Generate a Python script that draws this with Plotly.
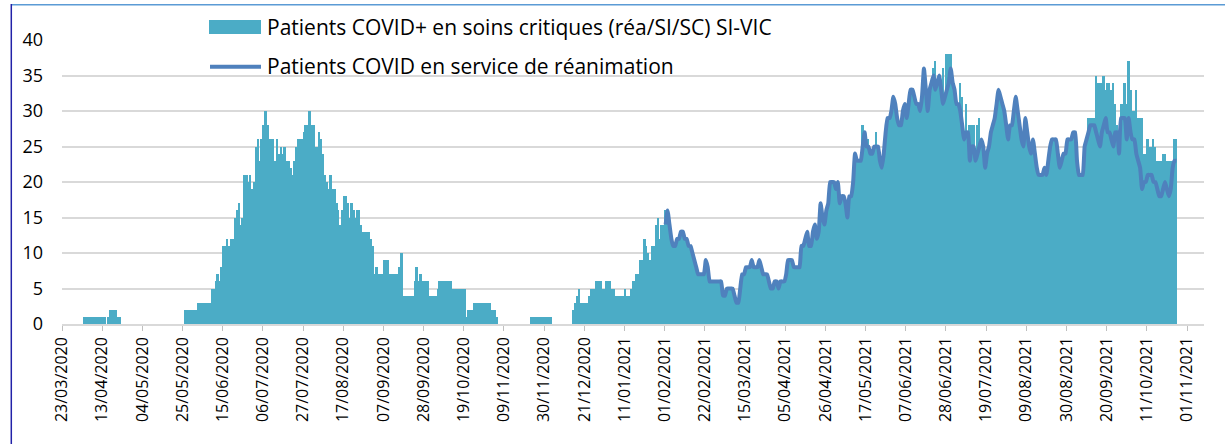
import pandas as pd
import plotly.graph_objects as go

# ---- data (daily values) ----
start_date = "2020-03-23"
line_start_date = "2021-02-01"

# Patients COVID+ en soins critiques (réa/SI/SC) SI-VIC, daily from 23/03/2020
soins_critiques = [
    0, 0, 0, 0, 0, 0, 0, 0, 0, 0,
    0, 1, 1, 1, 1, 1, 1, 1, 1, 1,
    1, 1, 1, 0, 1, 2, 2, 2, 2, 1,
    1, 0, 0, 0, 0, 0, 0, 0, 0, 0,
    0, 0, 0, 0, 0, 0, 0, 0, 0, 0,
    0, 0, 0, 0, 0, 0, 0, 0, 0, 0,
    0, 0, 0, 0, 2, 2, 2, 2, 2, 2,
    2, 3, 3, 3, 3, 3, 3, 3, 5, 5,
    6, 7, 6, 8, 11, 11, 12, 11, 12, 12,
    15, 16, 17, 14, 15, 21, 21, 20, 21, 19,
    20, 25, 26, 23, 26, 28, 30, 28, 26, 26,
    26, 23, 26, 24, 25, 24, 25, 23, 23, 22,
    21, 23, 25, 26, 26, 26, 27, 28, 28, 30,
    28, 28, 25, 25, 27, 26, 24, 21, 20, 19,
    21, 19, 19, 17, 16, 14, 16, 18, 18, 17,
    15, 17, 16, 15, 16, 16, 14, 13, 13, 13,
    13, 12, 11, 7, 8, 7, 7, 7, 9, 9,
    9, 7, 7, 7, 7, 7, 8, 10, 4, 4,
    4, 4, 4, 4, 6, 8, 6, 7, 6, 6,
    6, 6, 4, 4, 4, 4, 5, 6, 6, 6,
    6, 6, 6, 6, 5, 5, 5, 5, 5, 5,
    5, 1, 2, 2, 2, 3, 3, 3, 3, 3,
    3, 3, 3, 3, 2, 2, 2, 1, 0, 0,
    0, 0, 0, 0, 0, 0, 0, 0, 0, 0,
    0, 0, 0, 0, 0, 1, 1, 1, 1, 1,
    1, 1, 1, 1, 1, 1, 0, 0, 0, 0,
    0, 0, 0, 0, 0, 0, 0, 2, 3, 4,
    5, 3, 3, 3, 3, 4, 5, 5, 5, 6,
    6, 6, 5, 5, 6, 6, 6, 5, 5, 4,
    4, 4, 4, 4, 5, 4, 4, 5, 6, 6,
    7, 7, 9, 9, 12, 11, 10, 9, 11, 11,
    14, 15, 12, 14, 14, 16, 16, 14, 12, 11,
    11, 12, 12, 13, 13, 12, 12, 11, 11, 10,
    9, 8, 7, 7, 7, 7, 9, 8, 6, 6,
    6, 6, 6, 6, 6, 4, 4, 5, 5, 5,
    5, 4, 3, 3, 5, 7, 7, 8, 8, 8,
    9, 8, 8, 8, 9, 8, 7, 7, 7, 6,
    5, 5, 6, 6, 5, 6, 6, 6, 7, 9,
    9, 9, 8, 8, 8, 8, 11, 11, 12, 13,
    11, 11, 13, 14, 12, 13, 17, 15, 14, 16,
    17, 20, 20, 20, 19, 20, 17, 18, 18, 17,
    15, 18, 18, 20, 24, 23, 23, 23, 28, 27,
    26, 26, 24, 24, 25, 27, 25, 23, 22, 24,
    27, 29, 29, 30, 32, 31, 29, 28, 28, 30,
    31, 29, 31, 33, 33, 32, 31, 31, 30, 32,
    36, 33, 30, 33, 34, 36, 37, 34, 35, 33,
    36, 32, 38, 38, 38, 34, 34, 31, 31, 34,
    32, 26, 31, 27, 28, 28, 28, 23, 28, 29,
    26, 25, 22, 24, 25, 27, 28, 29, 31, 33,
    32, 31, 30, 28, 26, 28, 28, 30, 32, 30,
    28, 26, 25, 29, 27, 25, 24, 26, 24, 22,
    21, 21, 21, 22, 21, 23, 25, 26, 26, 26,
    24, 22, 23, 24, 24, 26, 26, 26, 27, 27,
    23, 21, 21, 21, 25, 26, 29, 29, 29, 29,
    35, 34, 34, 34, 35, 33, 34, 34, 33, 34,
    31, 28, 24, 31, 31, 34, 31, 37, 33, 30,
    30, 33, 29, 29, 29, 24, 24, 26, 25, 25,
    26, 25, 23, 23, 23, 24, 24, 23, 23, 23,
    22, 26, 26,
]

# Patients COVID en service de réanimation, daily from 01/02/2021
reanimation = [
    14, 16, 14, 12, 11,
    11, 12, 12, 13, 13, 12, 12, 11, 11, 10,
    9, 8, 7, 7, 7, 7, 9, 8, 6, 6,
    6, 6, 6, 6, 6, 4, 4, 5, 5, 5,
    5, 4, 3, 3, 5, 7, 7, 8, 8, 8,
    9, 8, 8, 8, 9, 8, 7, 7, 7, 6,
    5, 5, 6, 6, 5, 6, 6, 6, 7, 9,
    9, 9, 8, 8, 8, 8, 11, 11, 12, 13,
    11, 11, 13, 14, 12, 13, 17, 15, 14, 16,
    17, 20, 20, 20, 19, 20, 17, 18, 18, 17,
    15, 18, 18, 20, 24, 23, 23, 23, 25, 27,
    25, 25, 24, 24, 25, 25, 25, 23, 22, 24,
    27, 29, 29, 30, 32, 31, 29, 28, 28, 30,
    31, 29, 31, 33, 33, 32, 31, 31, 30, 32,
    36, 33, 30, 33, 34, 35, 33, 34, 35, 33,
    31, 32, 33, 34, 36, 34, 33, 31, 31, 30,
    28, 26, 27, 27, 23, 25, 25, 23, 24, 25,
    26, 25, 22, 24, 25, 27, 28, 29, 31, 33,
    32, 31, 30, 28, 26, 28, 28, 30, 32, 30,
    28, 26, 25, 29, 27, 25, 24, 26, 24, 22,
    21, 21, 21, 22, 21, 23, 25, 26, 26, 26,
    24, 22, 23, 24, 24, 26, 26, 26, 27, 27,
    23, 21, 21, 21, 25, 26, 27, 28, 28, 28,
    27, 26, 25, 27, 28, 29, 27, 27, 26, 25,
    27, 27, 24, 29, 29, 29, 26, 29, 27, 26,
    26, 24, 23, 22, 19, 20, 20, 21, 21, 21,
    20, 20, 19, 18, 18, 19, 20, 19, 18, 19,
    22, 23, 23,
]

legend_labels = [
    "Patients COVID+ en soins critiques (réa/SI/SC) SI-VIC",
    "Patients COVID en service de réanimation",
]

y_ticks = [0, 5, 10, 15, 20, 25, 30, 35, 40]

# ---- styling ----
BAR_COLOR = "#4BACC6"
LINE_COLOR = "#4F81BD"
GRID_COLOR = "#D9D9D9"
W, H = 1225, 444
L, R, T, B = 62, 21, 40, 120
PW, PH = W - L - R, H - T - B

half_day = pd.Timedelta(hours=12)
bar_x = pd.date_range(start_date, periods=len(soins_critiques), freq="D") + half_day
line_x = pd.date_range(line_start_date, periods=len(reanimation), freq="D") + half_day

fig = go.Figure()
fig.add_trace(go.Bar(
    x=bar_x, y=soins_critiques, name=legend_labels[0],
    marker=dict(color=BAR_COLOR, line=dict(width=0)),
    width=86400000, showlegend=False,
))
fig.add_trace(go.Scatter(
    x=line_x, y=reanimation, name=legend_labels[1], mode="lines",
    line=dict(color=LINE_COLOR, width=4, shape="spline", smoothing=0.4),
    showlegend=False,
))

def px_x(p):
    return (p - L) / PW

def px_y(p):
    return (H - B - p) / PH

shapes = [
    # frame lines (screenshot border)
    dict(type="line", xref="paper", yref="paper", x0=px_x(11), x1=px_x(1225),
         y0=px_y(4.7), y1=px_y(4.7), line=dict(color="#5B9BD5", width=1.5)),
    dict(type="line", xref="paper", yref="paper", x0=px_x(11.3), x1=px_x(11.3),
         y0=px_y(4), y1=px_y(444), line=dict(color="#2222A8", width=1.5)),
    # legend swatches
    dict(type="rect", xref="paper", yref="paper", x0=px_x(209), x1=px_x(261),
         y0=px_y(34), y1=px_y(20), fillcolor=BAR_COLOR, line=dict(width=0)),
    dict(type="line", xref="paper", yref="paper", x0=px_x(210), x1=px_x(261),
         y0=px_y(66.7), y1=px_y(66.7), line=dict(color=LINE_COLOR, width=4)),
]

annotations = [
    dict(text=legend_labels[0], xref="paper", yref="paper", x=px_x(265), y=px_y(27),
         xanchor="left", yanchor="middle", showarrow=False,
         font=dict(family="Open Sans", size=21, color="#000000")),
    dict(text=legend_labels[1], xref="paper", yref="paper", x=px_x(265), y=px_y(66),
         xanchor="left", yanchor="middle", showarrow=False,
         font=dict(family="Open Sans", size=21, color="#000000")),
]

day_ms = 86400000
range_end = pd.Timestamp(start_date) + pd.Timedelta(days=(1204 - 62) / 1125 * 588)

fig.update_layout(
    width=W, height=H,
    margin=dict(l=L, r=R, t=T, b=B, pad=0, autoexpand=False),
    paper_bgcolor="white", plot_bgcolor="white",
    bargap=0, barmode="overlay",
    shapes=shapes, annotations=annotations,
    showlegend=False,
    font=dict(family="Open Sans", color="#000000"),
)
fig.update_xaxes(
    type="date", automargin=False,
    range=[pd.Timestamp(start_date), range_end],
    tick0=start_date, dtick=21 * day_ms, tickformat="%d/%m/%Y",
    tickangle=-90, ticks="outside", ticklen=5, tickcolor="#BFBFBF", tickwidth=1,
    showgrid=False, showline=True, linecolor=GRID_COLOR, linewidth=1.5,
    tickfont=dict(family="Open Sans", size=16, color="#000000"),
    zeroline=False,
)
fig.update_yaxes(
    range=[0, 40], tickvals=y_ticks, automargin=False,
    showgrid=True, gridcolor=GRID_COLOR, gridwidth=1.5,
    zeroline=False, showline=False, ticks="",
    ticklabelstandoff=18,
    tickfont=dict(family="Open Sans", size=18, color="#000000"),
)

fig.write_html(
    "out.html",
    config={"displayModeBar": False},
    post_script="document.body.style.margin='0';document.body.style.overflow='hidden';",
)
